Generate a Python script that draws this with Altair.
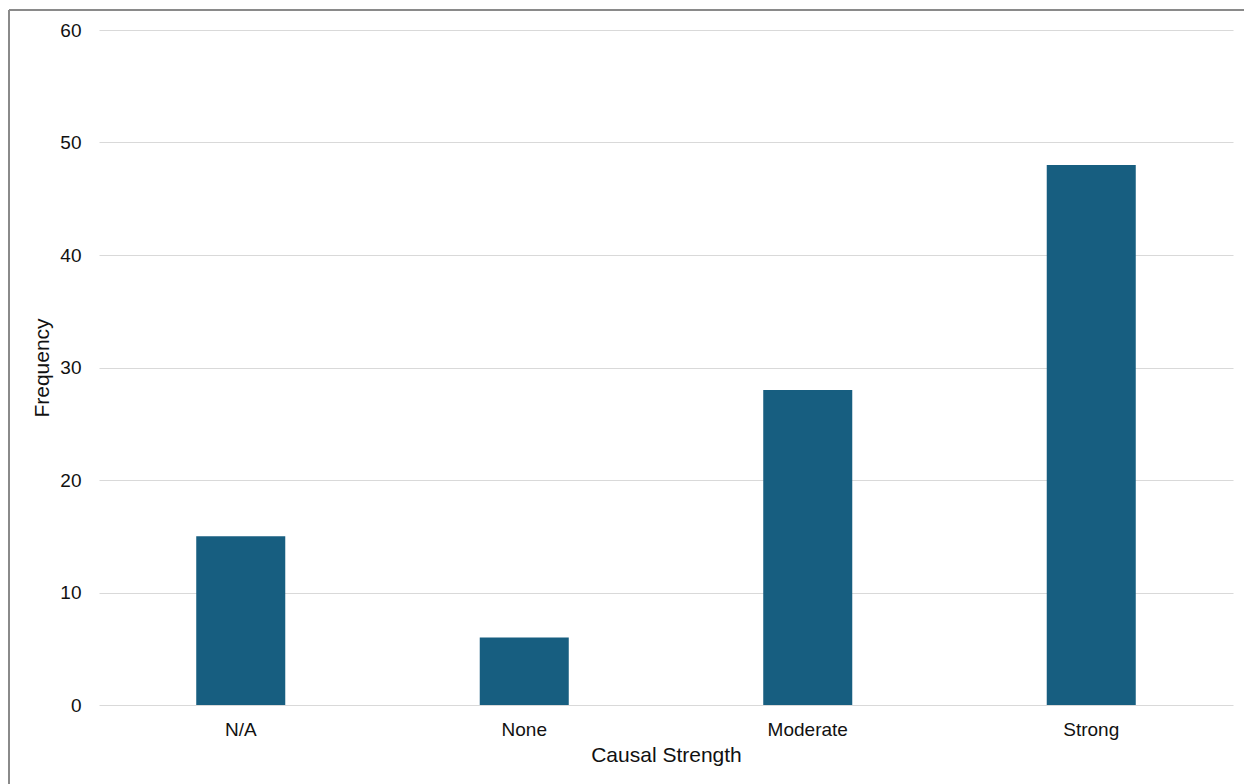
import altair as alt
import pandas as pd

# Frequency of each causal-strength rating
categories = ["N/A", "None", "Moderate", "Strong"]
frequencies = [15, 6, 28, 48]

df = pd.DataFrame({"strength": categories, "frequency": frequencies})

FONT = "Liberation Sans"

bars = alt.Chart(df).mark_bar(color="#175e80").encode(
    x=alt.X(
        "strength:N",
        sort=categories,
        scale=alt.Scale(paddingInner=0.686, paddingOuter=0.343),
        axis=alt.Axis(
            title="Causal Strength",
            labelAngle=0,
            labelFontSize=19,
            labelColor="#111111",
            labelPadding=15,
            titleFontSize=21,
            titleFontWeight="normal",
            titleColor="#111111",
            titlePadding=5,
            tickSize=0,
            domain=False,
            grid=False,
        ),
    ),
    y=alt.Y(
        "frequency:Q",
        scale=alt.Scale(domain=[0, 60], nice=False),
        axis=alt.Axis(
            title="Frequency",
            values=[0, 10, 20, 30, 40, 50, 60],
            labelFontSize=19,
            labelColor="#111111",
            labelPadding=18,
            titleFontSize=21,
            titleFontWeight="normal",
            titleColor="#111111",
            titlePadding=7,
            tickSize=0,
            domain=False,
            grid=True,
            gridColor="#d9d9d9",
            gridWidth=1,
        ),
    ),
)

# Outer frame of the figure (left and top edges)
frame_left = alt.Chart(df).mark_rule(color="#8a8a8a", strokeWidth=1.5, clip=False).encode(
    x=alt.value(-90), y=alt.value(-20), y2=alt.value(760)
)
frame_top = alt.Chart(df).mark_rule(color="#8a8a8a", strokeWidth=1.5, clip=False).encode(
    x=alt.value(-90), x2=alt.value(1160), y=alt.value(-20)
)

chart = (
    alt.layer(bars, frame_left, frame_top)
    .properties(
        width=1134,
        height=675,
        autosize=alt.AutoSizeParams(type="none"),
        padding={"left": 99, "top": 30, "right": 11, "bottom": 79},
        background="white",
    )
    .configure_view(stroke=None)
    .configure_axis(labelFont=FONT, titleFont=FONT)
)

chart.save("out.html", embed_options={"renderer": "svg", "actions": False})
